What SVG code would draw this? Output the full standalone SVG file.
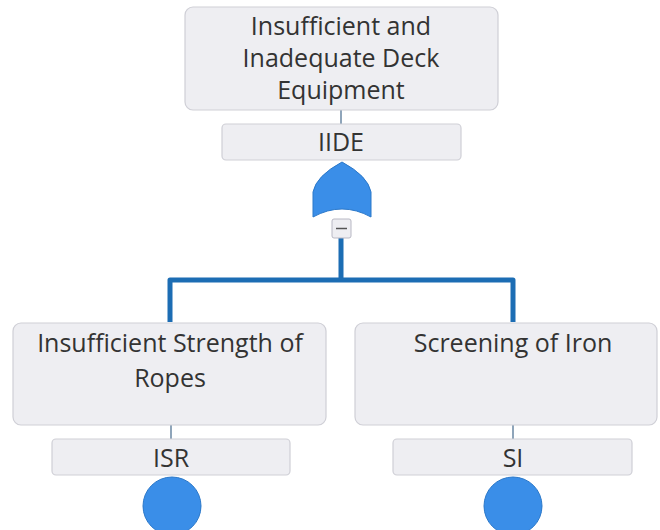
<svg xmlns="http://www.w3.org/2000/svg" width="660" height="530" viewBox="0 0 660 530">
  <style>
    .box { fill: #eeeef2; stroke: #cfcfd6; stroke-width: 1.2; }
    .lbl { font-family: "Open Sans", "Noto Sans", "Liberation Sans", sans-serif; font-size: 25px; fill: #333333; text-anchor: middle; }
    .link { fill: none; stroke: #1c6db4; stroke-width: 5; stroke-linejoin: round; }
    .stub { fill: none; stroke: #6a87a3; stroke-width: 1.5; }
    .event { fill: #3a8ee8; stroke: #2b78c9; stroke-width: 1; }
  </style>
  <rect width="660" height="530" fill="#ffffff"/>

  <!-- connectors -->
  <g id="connectors">
    <line class="stub" x1="341" y1="110" x2="341" y2="124"/>
    <path class="link" d="M341,238 V280 M170,322 V280 H513 V322"/>
    <line class="stub" x1="171" y1="425" x2="171" y2="439"/>
    <line class="stub" x1="513" y1="425" x2="513" y2="439"/>
  </g>

  <!-- top event -->
  <g id="node-IIDE">
    <rect class="box" x="185" y="7" width="313" height="103" rx="8"/>
    <text class="lbl" x="341" y="35">Insufficient and</text>
    <text class="lbl" x="341" y="67">Inadequate Deck</text>
    <text class="lbl" x="341" y="99">Equipment</text>
    <rect class="box" x="222" y="124" width="239" height="36" rx="4"/>
    <text class="lbl" x="341" y="151">IIDE</text>
  </g>

  <!-- OR gate with collapse toggle -->
  <g id="gate-IIDE">
    <path class="event" d="M342,162 Q316,176 313,192 L313,217 Q342,201 371,217 L371,192 Q368,176 342,162 Z"/>
    <rect x="332" y="219" width="19" height="19" rx="2" fill="#eeeef2" stroke="#b8b8c4" stroke-width="1"/>
    <line x1="336" y1="228.5" x2="347" y2="228.5" stroke="#555555" stroke-width="1.5"/>
  </g>

  <!-- basic event: ISR -->
  <g id="node-ISR">
    <rect class="box" x="13" y="323" width="313" height="102" rx="8"/>
    <text class="lbl" x="170" y="352">Insufficient Strength of</text>
    <text class="lbl" x="170" y="387">Ropes</text>
    <rect class="box" x="52" y="439" width="238" height="36" rx="4"/>
    <text class="lbl" x="171" y="467">ISR</text>
    <circle class="event" cx="172" cy="506" r="29"/>
  </g>

  <!-- basic event: SI -->
  <g id="node-SI">
    <rect class="box" x="355" y="323" width="302" height="102" rx="8"/>
    <text class="lbl" x="513" y="352">Screening of Iron</text>
    <rect class="box" x="393" y="439" width="239" height="36" rx="4"/>
    <text class="lbl" x="513" y="467">SI</text>
    <circle class="event" cx="513" cy="506" r="29"/>
  </g>
</svg>
